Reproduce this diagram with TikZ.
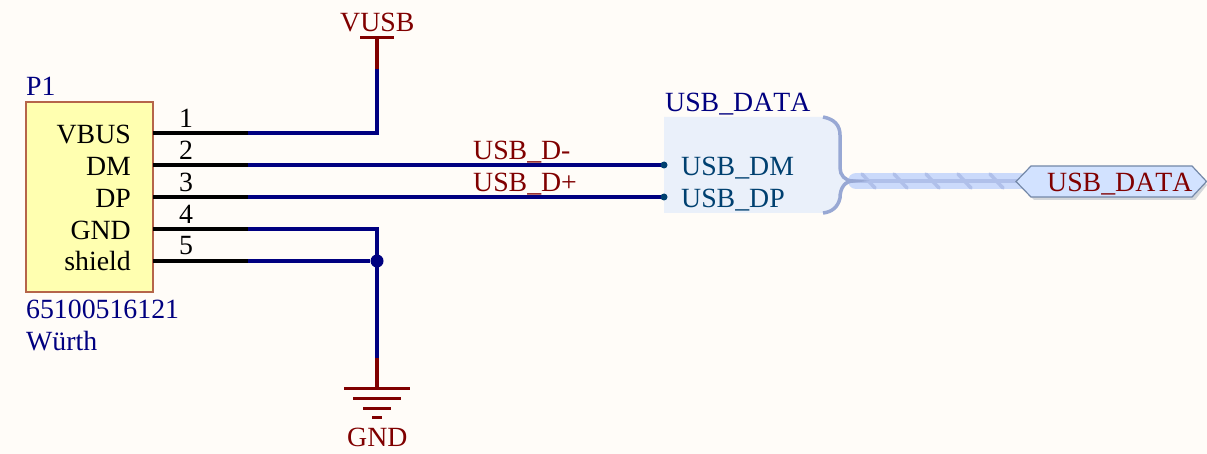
\documentclass[tikz,border=0pt]{standalone}
\usepackage{fontspec}
\setmainfont[Kerning=Off]{Liberation Serif}
\usepackage{tikz}
\definecolor{paper}{HTML}{FFFCF8}
\definecolor{wireblue}{HTML}{000080}
\definecolor{powerred}{HTML}{800000}
\definecolor{partfill}{HTML}{FFFFB0}
\definecolor{partline}{HTML}{B5654A}
\definecolor{harnessfill}{HTML}{EAF0FA}
\definecolor{harnessline}{HTML}{98A8D4}
\definecolor{busband}{HTML}{CBDAFB}
\definecolor{busline}{HTML}{B0C0EA}
\definecolor{portfill}{HTML}{D2E2FF}
\definecolor{portline}{HTML}{7488A8}
\definecolor{portshadow}{HTML}{D4D7DB}
\definecolor{entryblue}{HTML}{004070}
\tikzset{
  txt/.style={inner sep=0pt,font=\fontsize{27.8}{30}\selectfont},
  west/.style={txt,anchor=base west},
  east/.style={txt,anchor=base east},
  mid/.style={txt,anchor=base},
  pinline/.style={draw=black,line width=4pt},
  wire/.style={draw=wireblue,line width=4pt},
  power/.style={draw=powerred,line width=4pt},
  bar/.style={draw=powerred,line width=3pt},
  entrydot/.style={circle,fill=entryblue,inner sep=0pt,minimum size=7pt},
}
\begin{document}
\begin{tikzpicture}[x=1pt,y=-1pt]
    \useasboundingbox (0,0) rectangle (1207,454);
    \fill[paper] (0,0) rectangle (1207,454);

    \node[draw=partline,fill=partfill,line width=1.2pt,minimum width=127pt,minimum height=190pt,inner sep=0pt] (P1) at (89.5,197) {};
    \node[west,wireblue] (ref) at (26,96) {P1};
    \node[west,wireblue] (part) at (26,318) {65100516121};
    \node[west,wireblue] (maker) at (26,350) {Würth};

    \node[east] (vbus) at (131,144) {VBUS};
    \node[east] (dm) at (131,176) {DM};
    \node[east] (dp) at (131,208) {DP};
    \node[east] (gnd) at (131,240) {GND};
    \node[east] (shield) at (131,271) {shield};

    \node[mid] (n1) at (186,128) {1};
    \node[mid] (n2) at (186,160) {2};
    \node[mid] (n3) at (186,192) {3};
    \node[mid] (n4) at (186,224) {4};
    \node[mid] (n5) at (186,255) {5};

    \coordinate (p1) at (153,133);
    \coordinate (p2) at (153,165);
    \coordinate (p3) at (153,197);
    \coordinate (p4) at (153,229);
    \coordinate (p5) at (153,261);
    \coordinate (w1) at (248,133);
    \coordinate (w2) at (248,165);
    \coordinate (w3) at (248,197);
    \coordinate (w4) at (248,229);
    \coordinate (w5) at (248,261);

    \draw[pinline] (p1) -- (w1);
    \draw[pinline] (p2) -- (w2);
    \draw[pinline] (p3) -- (w3);
    \draw[pinline] (p4) -- (w4);
    \draw[pinline] (p5) -- (w5);

    \coordinate (vtop) at (377,38);
    \coordinate (vend) at (377,69);
    \coordinate (gend) at (377,358);
    \coordinate (gtop) at (377,388);
    \node[circle,fill=wireblue,inner sep=0pt,minimum size=13pt] (join) at (377,261) {};

    \draw[wire] (w1) -| (vend);
    \draw[wire] (w4) -| (gend);
    \draw[wire] (w5) -- (join);

    \draw[power] (vend) -- (vtop);
    \draw[bar] (360,38) -- (394,38);
    \node[west,powerred] (vusb) at (340,32) {VUSB};

    \draw[power] (gend) -- (gtop);
    \draw[bar] (344,388) -- (410,388);
    \draw[bar] (353,398) -- (401,398);
    \draw[bar] (363,408) -- (391,408);
    \draw[bar] (372,417) -- (382,417);
    \node[west,powerred] (gndlabel) at (347,446) {GND};

    \fill[harnessfill] (664,117) -- (823,117) .. controls (834,119) and (840,125) .. (840,135) -- (840,168)
      .. controls (840,175) and (845,181) .. (853,181) .. controls (845,181) and (840,188) .. (840,198)
      .. controls (838,207) and (832,212) .. (823,213) -- (664,213) -- cycle;
    \coordinate (busL) at (856,181);
    \coordinate (busM) at (853,181);
    \coordinate (busR) at (1020,181);
    \draw[busband,line width=16pt,line cap=round] (busL) -- (busR);
    \draw[busline,line width=3.5pt] (busM) -- (busR);
    \draw[busline,line width=3.5pt,line cap=round] (862,174) -- (875,188);
    \draw[busline,line width=3.5pt,line cap=round] (894,174) -- (907,188);
    \draw[busline,line width=3.5pt,line cap=round] (926,174) -- (939,188);
    \draw[busline,line width=3.5pt,line cap=round] (958,174) -- (971,188);
    \draw[busline,line width=3.5pt,line cap=round] (990,174) -- (1003,188);
    \draw[harnessline,line width=3.5pt] (823,117) .. controls (834,119) and (840,125) .. (840,135) -- (840,168)
      .. controls (840,175) and (845,181) .. (853,181) .. controls (845,181) and (840,188) .. (840,198)
      .. controls (838,207) and (832,212) .. (823,213);

    \coordinate (dmend) at (664,165);
    \coordinate (dpend) at (664,197);
    \draw[wire] (w2) -- (dmend);
    \draw[wire] (w3) -- (dpend);
    \node[entrydot] (dmdot) at (dmend) {};
    \node[entrydot] (dpdot) at (dpend) {};
    \node[west,powerred] (netdm) at (473,160) {USB\_D-};
    \node[west,powerred] (netdp) at (473,192) {USB\_D+};
    \node[west,wireblue] (harness) at (665,112) {USB\_DATA};
    \node[west,entryblue] (entrydm) at (681,176) {USB\_DM};
    \node[west,entryblue] (entrydp) at (681,208) {USB\_DP};

    \fill[portshadow] (1019,185) -- (1034,169) -- (1195,169) -- (1207,185) -- (1195,200) -- (1034,200) -- cycle;
    \draw[portline,fill=portfill,line width=1.2pt] (1016,181.5) -- (1031,166) -- (1192,166) -- (1206.5,181.5) -- (1192,197) -- (1031,197) -- cycle;
    \node[west,powerred] (portlabel) at (1047,192) {USB\_DATA};
  \end{tikzpicture}
\end{document}
